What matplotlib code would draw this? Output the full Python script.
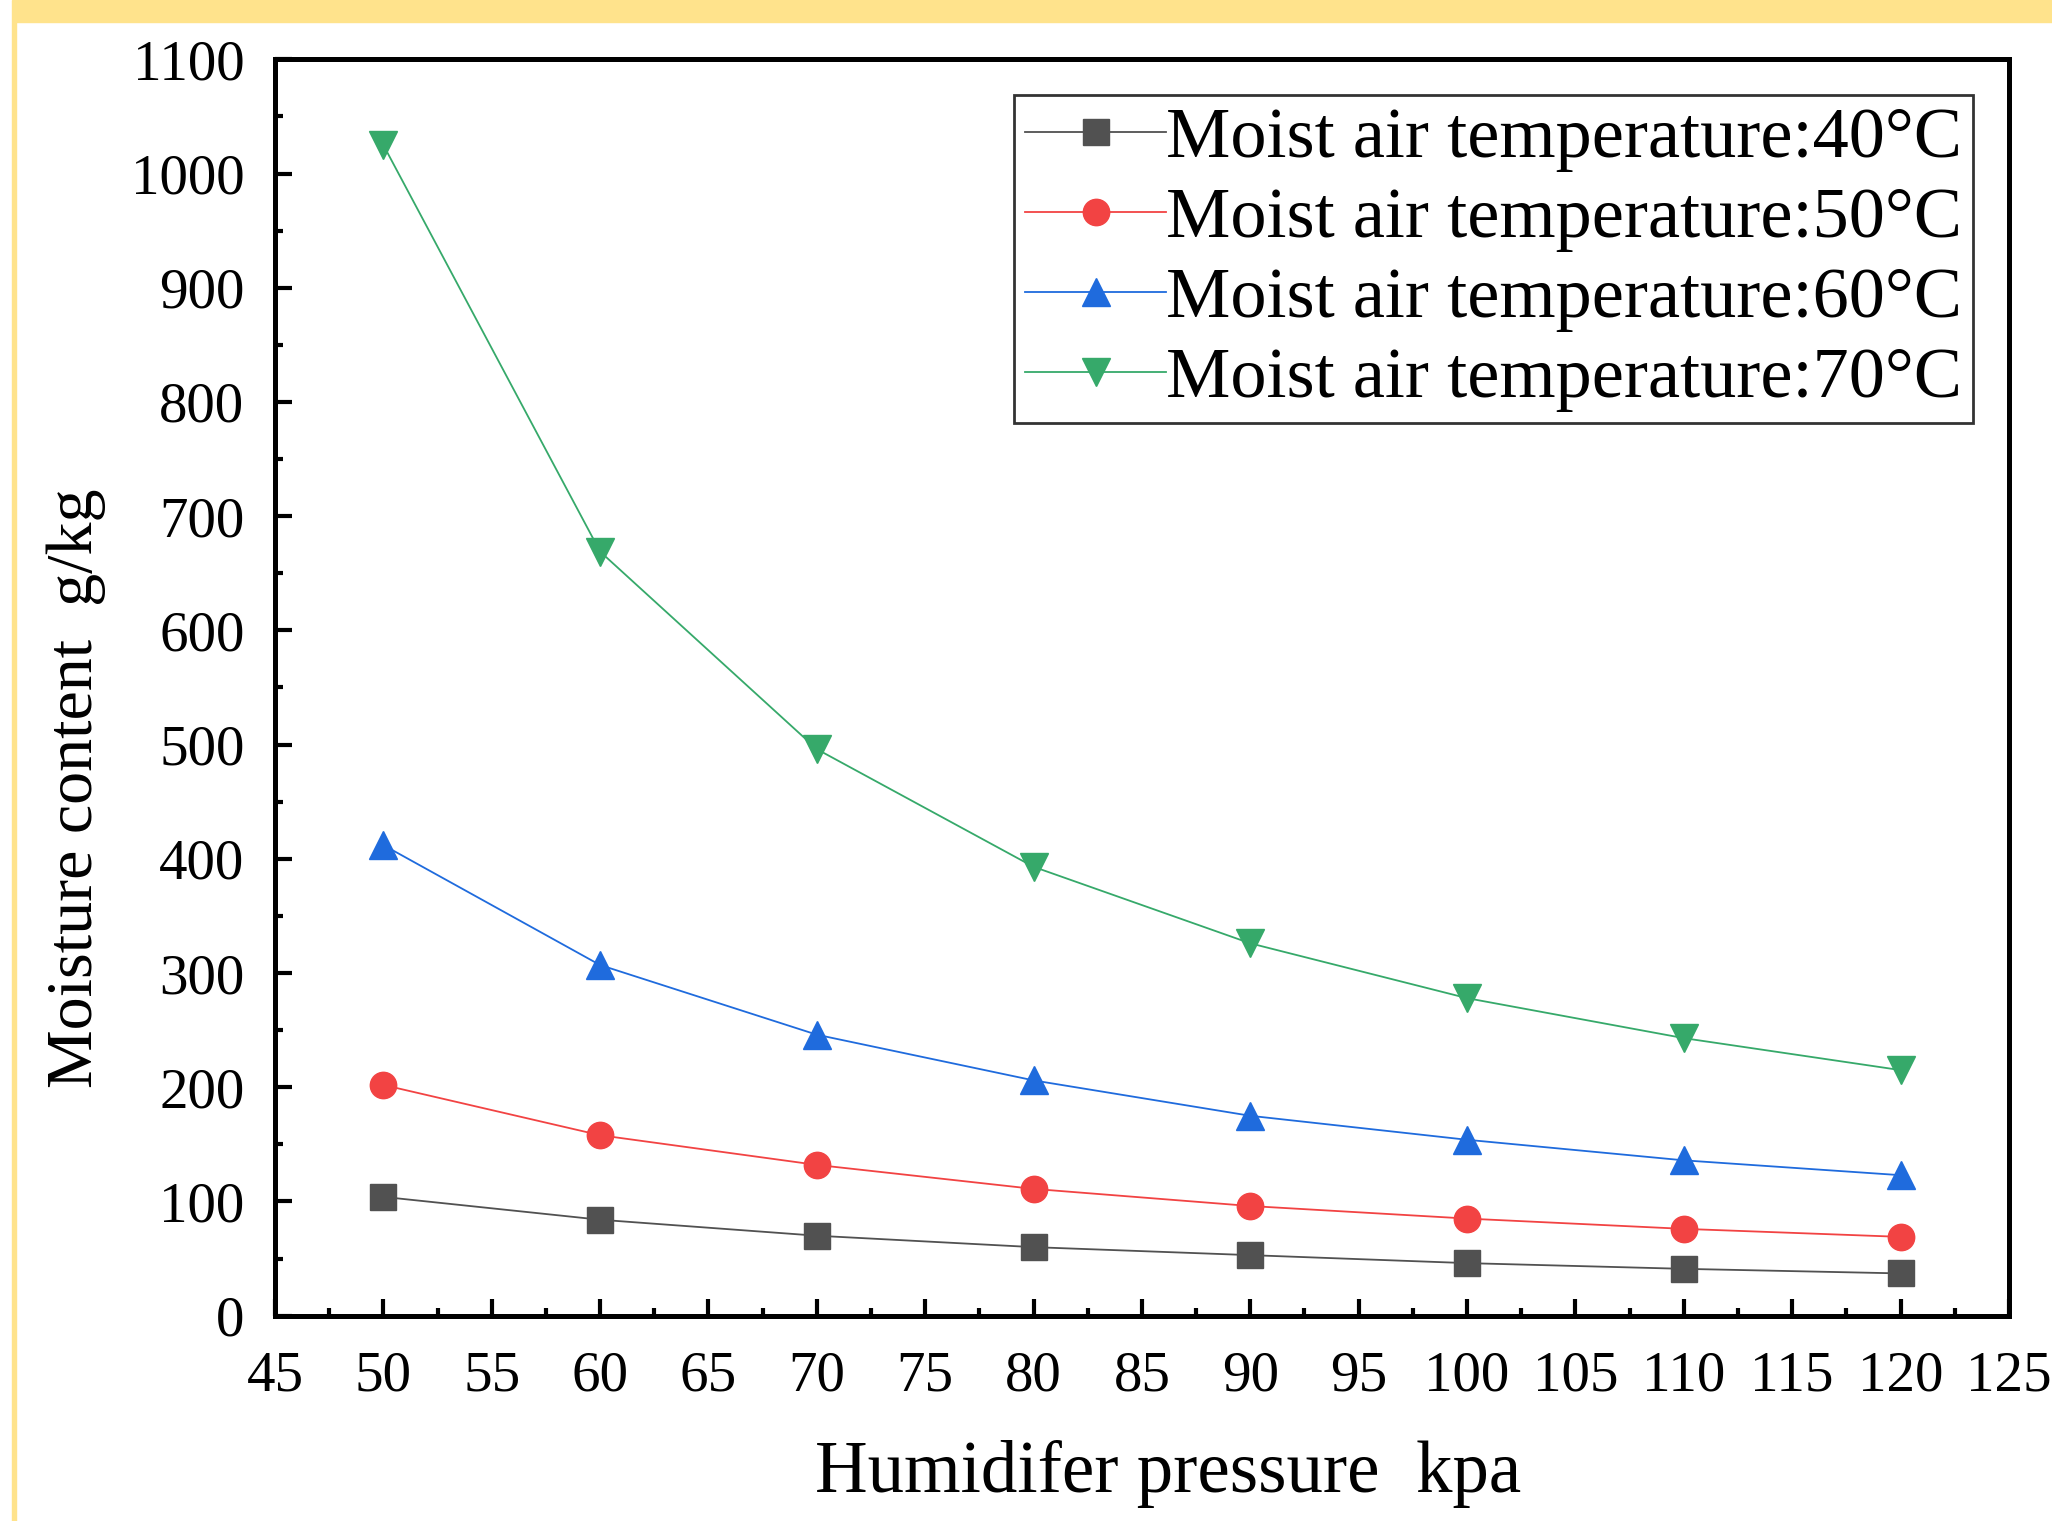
import matplotlib
matplotlib.use("Agg")
import matplotlib.pyplot as plt
from matplotlib.patches import Rectangle
from matplotlib.ticker import MultipleLocator

plt.rcParams['font.family'] = ['Liberation Serif', 'DejaVu Serif']

# humidifier pressure, kPa
pressure = [50, 60, 70, 80, 90, 100, 110, 120]

# moisture content g/kg
d_40 = [104, 84, 70, 60, 53, 46, 41, 37]
d_50 = [202, 158, 132, 111, 96, 85, 76, 69]
d_60 = [412, 307, 246, 206, 175, 154, 136, 123]
d_70 = [1025, 669, 496, 393, 326, 278, 243, 215]

labels = ['Moist air temperature:40\u00b0C', 'Moist air temperature:50\u00b0C',
          'Moist air temperature:60\u00b0C', 'Moist air temperature:70\u00b0C']

fig = plt.figure(figsize=(20.52, 15.21), dpi=100)

# yellow frame around the picture
fig.patches.append(Rectangle((15/2052, 1 - 22/1521), 1, 22/1521, transform=fig.transFigure,
                             color='#FFE38C', zorder=0))
fig.patches.append(Rectangle((12/2052, 0), 4/2052, 1, transform=fig.transFigure,
                             color='#FFE38C', zorder=0))

ax = fig.add_axes([0.134, 0.135, 0.845, 0.826])

ax.plot(pressure, d_40, '-s', color='#515151', lw=1.3, ms=19, label=labels[0])
ax.plot(pressure, d_50, '-o', color='#F24343', lw=1.3, ms=19, label=labels[1])
ax.plot(pressure, d_60, '-^', color='#1F6BDD', lw=1.3, ms=20, label=labels[2])
ax.plot(pressure, d_70, '-v', color='#36A96A', lw=1.3, ms=20, label=labels[3])

ax.set_xlim(45, 125)
ax.set_ylim(0, 1100)
ax.xaxis.set_major_locator(MultipleLocator(5))
ax.xaxis.set_minor_locator(MultipleLocator(2.5))
ax.yaxis.set_major_locator(MultipleLocator(100))
ax.yaxis.set_minor_locator(MultipleLocator(50))

for s in ax.spines.values():
    s.set_linewidth(3.6)
ax.tick_params(which='major', direction='in', length=12, width=3, labelsize=41, pad=22)
ax.tick_params(which='minor', direction='in', length=6, width=3)
ax.tick_params(axis='x', pad=25)

fig.text(0.569, 0.031, 'Humidifer pressure  kpa', fontsize=52.5, ha='center', va='center')
fig.text(0.037, 0.482, 'Moisture content  g/kg', fontsize=47.5, ha='center', va='center',
         rotation=90)

leg = ax.legend(loc='upper right', fontsize=52, frameon=True, fancybox=False,
                edgecolor='black', handlelength=1.95, handletextpad=0.0,
                borderpad=0.15, labelspacing=0.2, borderaxespad=0.5)
leg.get_frame().set_linewidth(2)

fig.savefig('out.png', dpi=100, facecolor='white')
